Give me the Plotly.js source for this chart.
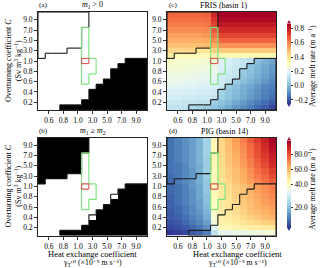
<!DOCTYPE html>
<html><head><meta charset="utf-8">
<script src="https://cdn.plot.ly/plotly-3.0.1.min.js"></script>
<style>html,body{margin:0;padding:0;background:#fff}#chart{width:320px;height:268px}</style>
</head><body><div id="chart"></div>
<script>
// ---- grid coordinates ----
const gammaVals = [0.5,0.6,0.7,0.8,0.9,1.0,2.0,3.0,4.0,5.0,6.0,7.0,8.0,9.0,10.0];
const cVals = [0.1,0.2,0.3,0.4,0.5,0.6,0.7,0.8,0.9,1.0,2.0,3.0,4.0,5.0,6.0,7.0,8.0,9.0,10.0];
const gammaTicks = [0.6,0.8,1.0,3.0,5.0,7.0,9.0];
const cTicks = [0.2,0.4,0.6,0.8,1.0,3.0,5.0,7.0,9.0];
// ---- regime masks ----
// rows (from C=0.1 upward) per gamma column where m1 <= 0
const negMeltRows = [0,0,0,1,1,1,2,4,5,6,8,9,10,10,10];
// lowest C value per gamma column where m1 < m2 in the high-C region (null = none)
const upperStartC = [2.0,3.0,3.0,3.0,4.0,4.0,8.0,null,null,null,null,null,null,null,null];
// cells [gamma, C] with m1 <= 0 but m1 >= m2
const holeCells = [[3.0,0.4],[6.0,0.8]];
// plausible parameter region (green) and chosen pair (red)
const plausGamma = [2.0,3.0];
const plausCmin = [0.6,0.8];
const plausCmax = [7.0,1.0];
const bestPair = [2.0,1.0];
// ---- average melt rates (rows: C=0.1 ... 10, cols: gamma 0.5 ... 10) ----
const meltFRIS = [
 [0.13,0.13,0.12,0.09,0.07,0.05,0.03,0.00,-0.03,-0.06,-0.09,-0.12,-0.15,-0.18,-0.22],
 [0.15,0.15,0.14,0.14,0.13,0.13,0.06,0.03,0.00,-0.03,-0.06,-0.09,-0.12,-0.15,-0.18],
 [0.17,0.17,0.16,0.16,0.15,0.15,0.14,0.06,0.03,0.00,-0.03,-0.06,-0.09,-0.12,-0.15],
 [0.19,0.19,0.18,0.18,0.17,0.17,0.16,0.07,0.04,0.01,-0.02,-0.05,-0.08,-0.11,-0.13],
 [0.21,0.21,0.20,0.20,0.19,0.19,0.18,0.15,0.05,0.02,-0.01,-0.04,-0.07,-0.10,-0.12],
 [0.23,0.23,0.22,0.22,0.21,0.21,0.20,0.16,0.14,0.05,0.02,-0.01,-0.04,-0.07,-0.10],
 [0.24,0.24,0.24,0.23,0.23,0.22,0.21,0.17,0.15,0.13,0.04,0.01,-0.02,-0.05,-0.08],
 [0.26,0.26,0.25,0.25,0.24,0.24,0.23,0.18,0.16,0.14,0.05,0.02,-0.01,-0.04,-0.07],
 [0.27,0.27,0.27,0.26,0.26,0.25,0.24,0.19,0.17,0.15,0.13,0.03,0.00,-0.03,-0.06],
 [0.29,0.28,0.28,0.28,0.27,0.27,0.26,0.20,0.18,0.16,0.14,0.12,0.02,-0.01,-0.04],
 [0.38,0.33,0.33,0.33,0.33,0.33,0.35,0.33,0.33,0.33,0.33,0.33,0.33,0.33,0.33],
 [0.44,0.44,0.44,0.44,0.40,0.40,0.45,0.47,0.47,0.47,0.47,0.47,0.47,0.47,0.47],
 [0.49,0.49,0.49,0.49,0.49,0.50,0.53,0.58,0.58,0.58,0.58,0.58,0.58,0.58,0.58],
 [0.53,0.53,0.53,0.53,0.53,0.54,0.59,0.66,0.66,0.66,0.66,0.66,0.66,0.66,0.66],
 [0.56,0.56,0.56,0.56,0.56,0.57,0.64,0.72,0.72,0.72,0.72,0.72,0.72,0.72,0.72],
 [0.59,0.59,0.59,0.59,0.59,0.60,0.68,0.77,0.77,0.77,0.77,0.77,0.77,0.77,0.77],
 [0.62,0.62,0.62,0.62,0.62,0.63,0.72,0.81,0.81,0.81,0.81,0.81,0.81,0.81,0.81],
 [0.64,0.64,0.64,0.64,0.64,0.65,0.75,0.85,0.85,0.85,0.85,0.85,0.85,0.85,0.85],
 [0.66,0.66,0.66,0.66,0.66,0.67,0.78,0.88,0.88,0.88,0.88,0.88,0.88,0.88,0.88]
];
const meltPIG = [
 [3,4,5,7,9,12,28,34,34,35,35,36,36,37,37],
 [5,6,7,9,11,14,33,42,43,44,45,46,47,48,49],
 [6,7,9,11,13,16,36,45,46,48,50,52,53,55,56],
 [7,8,10,12,14,18,38,46,48,50,53,55,57,59,61],
 [7,9,11,13,15,19,39,47,49,52,55,58,60,62,64],
 [8,9,11,13,16,20,40,47,50,53,56,59,62,64,66],
 [8,10,12,14,16,21,40,48,51,54,57,60,63,66,68],
 [8,10,12,14,17,21,41,48,51,55,58,61,64,67,70],
 [9,10,12,14,17,22,41,48,52,55,58,62,65,68,71],
 [9,10,12,15,17,22,41,49,52,56,59,62,66,69,72],
 [9,11,13,15,18,22,42,50,54,58,62,66,70,74,78],
 [9,11,13,15,18,23,42,51,55,59,63,68,72,76,81],
 [10,11,13,15,18,23,42,51,56,60,64,69,74,78,84],
 [10,11,13,16,18,23,43,52,57,61,66,71,76,81,87],
 [10,12,14,16,19,23,43,52,58,62,67,72,78,83,89],
 [10,12,14,16,19,24,43,53,58,63,68,74,80,85,91],
 [10,12,14,16,19,24,43,53,59,64,69,75,81,87,93],
 [10,12,14,16,19,24,43,54,59,65,70,76,82,88,95],
 [10,12,14,16,19,24,43,54,60,66,72,78,84,90,97]
];
const firsTicks = [-0.2,0.0,0.2,0.4,0.6,0.8];
const pigTicks = [20,40,60,80];
const pigNorm = {vmin:3, vcenter:40, vmax:98};
const firsRange = [-0.25,0.87];

// ---- helpers ----
const W=320, H=268;
const FONT = 'Liberation Serif, DejaVu Serif, serif';
const nx = gammaVals.length, ny = cVals.length;
const gi = g => gammaVals.findIndex(v => Math.abs(v-g)<1e-9);
const ci = c => cVals.findIndex(v => Math.abs(v-c)<1e-9);
function emptyMask(){ return cVals.map(()=>gammaVals.map(()=>false)); }
const lowerMask = emptyMask(), upperMask = emptyMask(), plausMask = emptyMask(), bestMask = emptyMask();
for (let c=0;c<nx;c++){
  for (let r=0;r<negMeltRows[c];r++) lowerMask[r][c]=true;
  if (upperStartC[c]!==null) for (let r=ci(upperStartC[c]);r<ny;r++) upperMask[r][c]=true;
}
plausGamma.forEach((g,k)=>{ for(let r=ci(plausCmin[k]);r<=ci(plausCmax[k]);r++) plausMask[r][gi(g)]=true; });
bestMask[ci(bestPair[1])][gi(bestPair[0])]=true;
const lowerB = lowerMask.map(row=>row.slice());
holeCells.forEach(([g,c])=>{ lowerB[ci(c)][gi(g)]=false; });
const zA = lowerMask.map(row=>row.map(v=>v?1:0));
const zB = lowerB.map((row,r)=>row.map((v,c)=>(v||upperMask[r][c])?1:0));

function outline(mask){
  const xs=[], ys=[];
  const inM=(r,c)=> r>=0&&r<ny&&c>=0&&c<nx&&mask[r][c];
  const seg=(x0,y0,x1,y1)=>{xs.push(x0,x1,null); ys.push(y0,y1,null);};
  for (let r=0;r<ny;r++) for (let c=0;c<nx;c++) if (mask[r][c]){
    if(!inM(r,c-1)) seg(c-0.5,r-0.5,c-0.5,r+0.5);
    if(!inM(r,c+1)) seg(c+0.5,r-0.5,c+0.5,r+0.5);
    if(!inM(r-1,c)) seg(c-0.5,r-0.5,c+0.5,r-0.5);
    if(!inM(r+1,c)) seg(c-0.5,r+0.5,c+0.5,r+0.5);
  }
  return {xs, ys};
}
const lineSets = [
  {m:upperMask, color:'#1a1a1a', w:1.1},
  {m:lowerMask, color:'#1a1a1a', w:1.1},
  {m:plausMask, color:'#80e27e', w:1.2},
  {m:bestMask, color:'#d9534f', w:1.1}
];
const xIdx = gammaVals.map((_,i)=>i), yIdx = cVals.map((_,i)=>i);
const rdylbu = ['#313695','#4575b4','#74add1','#abd9e9','#e0f3f8','#ffffbf','#fee090','#fdae61','#f46d43','#d73027','#a50026'];
const cscale = rdylbu.map((c,i)=>[i/10,c]);
const normPIG = v => v<=pigNorm.vcenter ? 0.5*(v-pigNorm.vmin)/(pigNorm.vcenter-pigNorm.vmin)
                                        : 0.5+0.5*(v-pigNorm.vcenter)/(pigNorm.vmax-pigNorm.vcenter);

const pans = [
  {k:'', x:[38,147], y:[12,110]},
  {k:'2', x:[38,147], y:[137.5,235.5]},
  {k:'3', x:[167,276], y:[12,110]},
  {k:'4', x:[167,276], y:[137.5,235.5]}
];
const bars = [{top:23.5, bot:103.5}, {top:140.5, bot:227.5}];
const barX = [287, 291];
const traces = [];
const cbBase = {xanchor:'left', yanchor:'middle', lenmode:'fraction', thickness:barX[1]-barX[0], thicknessmode:'pixels',
  xpad:0, ypad:0, outlinewidth:0, ticks:'outside', ticklen:2.5, tickwidth:0.8, tickcolor:'#000',
  tickfont:{family:FONT,size:7.5,color:'#000'}, title:{text:''}};
traces.push({type:'heatmap', x:xIdx, y:yIdx, z:zA, xaxis:'x', yaxis:'y', zmin:0, zmax:1,
  colorscale:[[0,'#ffffff'],[1,'#000000']], showscale:false, hoverinfo:'skip'});
traces.push({type:'heatmap', x:xIdx, y:yIdx, z:zB, xaxis:'x2', yaxis:'y2', zmin:0, zmax:1,
  colorscale:[[0,'#ffffff'],[1,'#000000']], showscale:false, hoverinfo:'skip'});
traces.push({type:'heatmap', x:xIdx, y:yIdx, z:meltFRIS, xaxis:'x3', yaxis:'y3', zmin:firsRange[0], zmax:firsRange[1],
  colorscale:cscale, hoverinfo:'skip',
  colorbar:Object.assign({}, cbBase, {x:barX[0]/W, y:1-(bars[0].top+bars[0].bot)/2/H, len:(bars[0].bot-bars[0].top)/H,
    tickvals:firsTicks, ticktext:firsTicks.map(v=>(v<0?'−':'')+Math.abs(v).toFixed(1))})});
traces.push({type:'heatmap', x:xIdx, y:yIdx, z:meltPIG.map(row=>row.map(normPIG)), xaxis:'x4', yaxis:'y4', zmin:0, zmax:1,
  colorscale:cscale, hoverinfo:'skip',
  colorbar:Object.assign({}, cbBase, {x:barX[0]/W, y:1-(bars[1].top+bars[1].bot)/2/H, len:(bars[1].bot-bars[1].top)/H,
    tickvals:pigTicks.map(normPIG), ticktext:pigTicks.map(v=>v.toFixed(1))})});
pans.forEach(p=>{
  lineSets.forEach(s=>{
    const o = outline(s.m);
    traces.push({type:'scatter', mode:'lines', x:o.xs, y:o.ys, xaxis:'x'+p.k, yaxis:'y'+p.k,
      line:{color:s.color, width:s.w}, hoverinfo:'skip', showlegend:false, connectgaps:false});
  });
});

const layout = {width:W, height:H, margin:{l:0,r:0,t:0,b:0}, paper_bgcolor:'#fff', plot_bgcolor:'#fff',
  showlegend:false, font:{family:FONT, size:7.5, color:'#000'}, annotations:[], shapes:[]};
pans.forEach(p=>{
  layout['xaxis'+p.k] = {domain:[p.x[0]/W, p.x[1]/W], anchor:'y'+p.k, range:[-0.5,nx-0.5],
    tickvals:gammaTicks.map(gi), ticktext:gammaTicks.map(v=>v.toFixed(1)), ticks:'outside', ticklen:3, tickwidth:0.8,
    tickcolor:'#000', showline:true, mirror:true, linecolor:'#222', linewidth:1, showgrid:false, zeroline:false,
    tickfont:{family:FONT,size:7.5,color:'#000'}};
  layout['yaxis'+p.k] = {domain:[1-p.y[1]/H, 1-p.y[0]/H], anchor:'x'+p.k, range:[-0.5,ny-0.5],
    tickvals:cTicks.map(ci), ticktext:cTicks.map(v=>v.toFixed(1)), ticks:'outside', ticklen:3, tickwidth:0.8,
    tickcolor:'#000', showline:true, mirror:true, linecolor:'#222', linewidth:1, showgrid:false, zeroline:false,
    tickfont:{family:FONT,size:7.5,color:'#000'}};
});
// colorbar extension triangles
bars.forEach(b=>{
  const fx = v=>(v/W).toFixed(5), fy = v=>(1-v/H).toFixed(5), mid=(barX[0]+barX[1])/2;
  layout.shapes.push({type:'path', xref:'paper', yref:'paper', line:{width:0}, fillcolor:rdylbu[10],
    path:`M${fx(barX[0])},${fy(b.top)}L${fx(barX[1])},${fy(b.top)}L${fx(mid)},${fy(b.top-3.5)}Z`});
  layout.shapes.push({type:'path', xref:'paper', yref:'paper', line:{width:0}, fillcolor:rdylbu[0],
    path:`M${fx(barX[0])},${fy(b.bot)}L${fx(barX[1])},${fy(b.bot)}L${fx(mid)},${fy(b.bot+3.5)}Z`});
});
const A = (text,x,y,opt)=>layout.annotations.push(Object.assign({text, x:x/W, y:1-y/H, xref:'paper', yref:'paper',
  showarrow:false, xanchor:'center', yanchor:'middle', borderpad:0, font:{family:FONT,size:8,color:'#000'}}, opt||{}));
const small = {family:FONT,size:7,color:'#000'};
A('(a)',38,5,{xanchor:'left',font:small});
A('(b)',38,131,{xanchor:'left',font:small});
A('(c)',168,5,{xanchor:'left',font:small});
A('(d)',168,131,{xanchor:'left',font:small});
A('<i>m</i><sub>1</sub> &gt; 0',92.5,5);
A('<i>m</i><sub>1</sub> ≥ <i>m</i><sub>2</sub>',92.5,131);
A('FRIS (basin 1)',223,5);
A('PIG (basin 14)',224,131);
[61,186.5].forEach(yc=>{
  A('Overturning coefficient <i>C</i><br>(Sv m<sup>3</sup> kg<sup>−1</sup>)',13,yc,{textangle:-90});
});
[66,189].forEach(yc=>A('Average melt rate (m a<sup>−1</sup>)',312,yc,{textangle:-90}));
[92.5,237].forEach(xc=>{
  A('Heat exchange coefficient',xc,253.8,{font:{family:FONT,size:8.5,color:'#000'}});
  A('γ<sub>T</sub>ᵉᶠᶠ (×10⁻⁵ m s⁻¹)',xc,263.4,{font:{family:FONT,size:7.8,color:'#000'}});
});
Plotly.newPlot('chart', traces, layout, {staticPlot:true, displayModeBar:false});
</script></body></html>
